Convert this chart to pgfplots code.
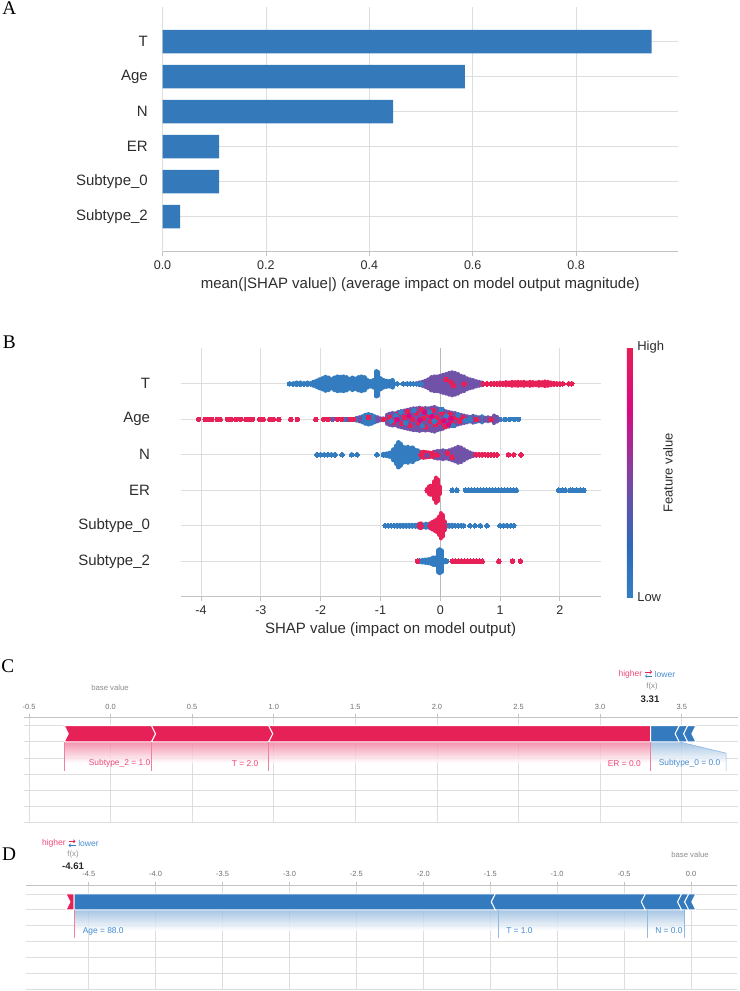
\documentclass[border=0pt]{standalone}
\usepackage{pgfplots}
\pgfplotsset{compat=1.18}
\usepackage{pgfplotstable}
\usetikzlibrary{arrows.meta}
\usepackage{fontspec}
\setmainfont{Liberation Sans}
\newfontfamily\seriffont{Liberation Serif}
\definecolor{barblue}{RGB}{52,122,187}
\definecolor{sblue}{RGB}{52,124,192}
\definecolor{spurp}{RGB}{112,82,168}
\definecolor{sred}{RGB}{232,32,88}
\definecolor{gridc}{RGB}{222,222,222}
\definecolor{axc}{RGB}{195,195,195}
\definecolor{txt}{RGB}{45,45,45}
\definecolor{fred}{RGB}{230,33,88}
\definecolor{fblue}{RGB}{52,122,190}
\definecolor{ftred}{RGB}{238,72,120}
\definecolor{ftblue}{RGB}{70,140,210}
\definecolor{fgray}{RGB}{140,140,140}
\definecolor{ftick}{RGB}{110,110,110}

\pgfplotsset{
  shapax/.style={scale only axis, enlargelimits=false,
    axis x line=bottom, axis y line=left,
    x axis line style={-, color=axc, line width=0.7pt},
    y axis line style={draw=none},
    grid=major, grid style={color=gridc, line width=0.6pt},
    tick align=outside, xtick style={color=axc, line width=0.6pt},
    major tick length=3.5pt, ytick style={draw=none},
    tick label style={color=txt}},
  forceax/.style={scale only axis, enlargelimits=false,
    axis x line=top, axis y line=left,
    x axis line style={-, color=axc, line width=0.6pt},
    y axis line style={draw=none},
    grid=major, grid style={color=gridc, line width=0.6pt},
    tick align=outside, xtick style={color=axc, line width=0.5pt},
    major tick length=2.5pt, ytick style={draw=none},
    ytick={-6,...,0}, yticklabels={},
    xticklabel style={font=\fontsize{5.6}{6}\selectfont, color=ftick}},
  swarm/.style={only marks, mark=*, mark size=1.7pt, color=#1,
    mark options={solid, fill=#1, draw=#1, line width=0pt},
    error bars/.cd, y dir=both, y explicit, error mark=none,
    error bar style={line width=3.4pt, line cap=round, color=#1, solid}},
}

% ---------- beeswarm data (x = SHAP value, y = feature row, e = half height of stack)
\pgfplotstableread{
x y e
-2.52 5 0
-2.46 5 0
-2.40 5 0.03
-2.34 5 0.03
-2.28 5 0
-2.22 5 0.03
-2.17 5 0
-2.12 5 0.05
-2.07 5 0.08
-2.02 5 0.12
-1.97 5 0.15
-1.92 5 0.19
-1.87 5 0.17
-1.82 5 0.12
-1.77 5 0.17
-1.72 5 0.20
-1.67 5 0.19
-1.62 5 0.20
-1.57 5 0.18
-1.52 5 0.13
-1.47 5 0.17
-1.42 5 0.14
-1.37 5 0.18
-1.32 5 0.20
-1.27 5 0.18
-1.22 5 0.10
-1.17 5 0.07
-1.12 5 0.10
-1.07 5 0.35
-1.04 5 0.33
-1.00 5 0.15
-0.95 5 0.10
-0.90 5 0.08
-0.85 5 0.07
-0.80 5 0.10
-0.72 5 0
-0.62 5 0
-0.55 5 0
-0.50 5 0
-0.45 5 0
-1.60 4 0
-1.40 4 0.03
-1.30 4 0.08
-1.25 4 0.12
-1.20 4 0.14
-1.15 4 0.12
-1.10 4 0.08
-0.95 4 0.02
0.50 4 0.06
0.60 4 0.07
0.70 4 0.08
1.00 4 0
1.08 4 0
1.16 4 0
1.24 4 0
1.31 4 0
-2.06 3 0
-2.00 3 0
-1.94 3 0
-1.88 3 0
-1.82 3 0
-1.76 3 0
-1.64 3 0
-1.48 3 0
-1.39 3 0
-1.06 3 0
-0.95 3 0.02
-0.90 3 0.03
-0.85 3 0.05
-0.80 3 0.08
-0.78 3 0.15
-0.74 3 0.25
-0.70 3 0.35
-0.66 3 0.30
-0.62 3 0.22
-0.58 3 0.20
-0.54 3 0.22
-0.50 3 0.18
-0.46 3 0.20
-0.42 3 0.14
-0.38 3 0.12
-0.34 3 0.08
0.20 2 0
0.28 2 0
0.42 2 0
0.47 2 0
0.52 2 0
0.57 2 0
0.62 2 0
0.67 2 0
0.72 2 0
0.77 2 0
0.82 2 0
0.87 2 0
0.92 2 0
0.97 2 0
1.02 2 0
1.07 2 0
1.12 2 0
1.17 2 0
1.22 2 0
1.27 2 0
1.98 2 0
2.04 2 0
2.09 2 0
2.17 2 0
2.22 2 0
2.28 2 0
2.34 2 0
2.40 2 0
-0.92 1 0
-0.87 1 0
-0.82 1 0
-0.77 1 0
-0.72 1 0.02
-0.67 1 0.02
-0.62 1 0.02
-0.57 1 0.02
-0.52 1 0.02
-0.47 1 0.02
-0.42 1 0.02
-0.38 1 0.02
-0.28 1 0.03
-0.24 1 0.05
-0.20 1 0.04
0.10 1 0.03
0.15 1 0.02
0.20 1 0.02
0.25 1 0
0.30 1 0
0.35 1 0
0.39 1 0
0.50 1 0
0.58 1 0
0.67 1 0
0.78 1 0
1.00 1 0
1.06 1 0
1.12 1 0
1.18 1 0
1.23 1 0
-0.35 0 0.02
-0.30 0 0.03
-0.25 0 0.04
-0.20 0 0.05
-0.15 0 0.07
-0.11 0 0.10
-0.07 0 0.10
-0.04 0 0.30
-0.01 0 0.33
0.02 0 0.30
0.05 0 0.04
0.08 0 0.02
0.11 0 0
}\tblue

\pgfplotstableread{
x y e
-0.40 5 0
-0.35 5 0.03
-0.30 5 0.05
-0.25 5 0.08
-0.20 5 0.12
-0.15 5 0.18
-0.10 5 0.20
-0.05 5 0.20
0.00 5 0.22
0.05 5 0.25
0.10 5 0.27
0.15 5 0.30
0.20 5 0.32
0.25 5 0.30
0.30 5 0.27
0.35 5 0.22
0.40 5 0.20
0.45 5 0.15
0.50 5 0.12
0.55 5 0.10
0.60 5 0.07
0.65 5 0.05
0.70 5 0.03
-1.80 4 0
-1.55 4 0
-1.35 4 0.05
-1.05 4 0.05
-1.00 4 0.02
-0.89 4 0.12
-0.85 4 0.15
-0.80 4 0.17
-0.75 4 0.16
-0.70 4 0.20
-0.65 4 0.22
-0.60 4 0.24
-0.55 4 0.26
-0.50 4 0.28
-0.45 4 0.30
-0.40 4 0.30
-0.35 4 0.32
-0.30 4 0.30
-0.25 4 0.31
-0.20 4 0.30
-0.15 4 0.32
-0.10 4 0.34
-0.05 4 0.30
0.00 4 0.28
0.05 4 0.26
0.10 4 0.22
0.15 4 0.20
0.20 4 0.18
0.25 4 0.17
0.30 4 0.14
0.35 4 0.12
0.40 4 0.10
0.45 4 0.08
0.55 4 0.09
0.65 4 0.05
0.75 4 0.04
0.80 4 0.05
0.85 4 0.03
0.90 4 0.10
0.95 4 0.06
-0.10 3 0.08
-0.05 3 0.10
0.00 3 0.10
0.05 3 0.12
0.10 3 0.10
0.15 3 0.12
0.20 3 0.15
0.25 3 0.18
0.30 3 0.22
0.35 3 0.20
0.40 3 0.15
0.45 3 0.10
0.50 3 0.06
0.55 3 0.03
}\tpurp

\pgfplotstableread{
x y e
0.72 5 0
0.78 5 0
0.85 5 0
0.90 5 0.02
0.95 5 0
1.00 5 0.03
1.05 5 0.02
1.10 5 0.04
1.15 5 0.03
1.20 5 0.05
1.25 5 0.04
1.30 5 0.05
1.35 5 0.04
1.40 5 0.05
1.45 5 0.03
1.50 5 0.05
1.55 5 0.04
1.60 5 0.03
1.65 5 0.05
1.70 5 0.04
1.75 5 0.06
1.80 5 0.05
1.85 5 0.03
1.90 5 0.02
1.95 5 0
2.00 5 0
2.05 5 0
2.15 5 0
2.20 5 0
-4.04 4 0
-3.93 4 0
-3.87 4 0
-3.82 4 0
-3.73 4 0
-3.68 4 0
-3.56 4 0
-3.50 4 0
-3.42 4 0
-3.34 4 0
-3.25 4 0
-3.20 4 0
-3.14 4 0
-3.02 4 0
-2.96 4 0
-2.85 4 0
-2.79 4 0
-2.70 4 0
-2.50 4 0
-2.39 4 0
-2.08 4 0
-1.95 4 0
-1.88 4 0
-1.72 4 0
-1.65 4 0
-1.50 4 0
-1.45 4 0
-0.32 3 0.06
-0.28 3 0.08
-0.24 3 0.07
-0.20 3 0.06
-0.16 3 0.05
-0.12 3 0.06
0.60 3 0.02
0.65 3 0
0.70 3 0.02
0.75 3 0
0.80 3 0
0.85 3 0
0.90 3 0
0.95 3 0
1.14 3 0
1.23 3 0
1.35 3 0
-0.22 2 0.03
-0.19 2 0.10
-0.16 2 0.12
-0.13 2 0.12
-0.10 2 0.25
-0.07 2 0.35
-0.04 2 0.30
-0.01 2 0.10
-0.35 1 0.05
-0.32 1 0.06
-0.17 1 0.06
-0.13 1 0.10
-0.09 1 0.14
-0.05 1 0.18
-0.02 1 0.25
0.01 1 0.35
0.04 1 0.30
0.07 1 0.12
-0.38 0 0
0.20 0 0
0.25 0 0
0.30 0 0
0.35 0 0
0.40 0 0
0.45 0 0
0.50 0 0
0.55 0 0
0.60 0 0
0.65 0 0
0.70 0 0
0.98 0 0
1.21 0 0
1.34 0 0
}\tred

\pgfplotstableread{
x y c
-0.85 4.05 1
-0.78 3.92 1
-0.70 4.15 1
-0.64 3.88 1
-0.60 4.05 1
-0.55 4.22 1
-0.50 3.82 1
-0.46 4.00 1
-0.40 4.18 1
-0.36 3.90 1
-0.32 4.28 1
-0.28 4.02 1
-0.24 3.78 1
-0.20 4.12 1
-0.16 3.95 1
-0.12 4.25 1
-0.08 3.85 1
-0.05 4.05 1
0.00 3.92 1
0.03 4.18 1
0.08 3.80 1
0.12 4.05 1
0.16 4.15 1
0.20 3.90 1
0.26 4.05 1
0.32 3.95 1
0.38 4.05 1
-1.20 4.05 1
-0.95 4.00 1
0.60 4.00 1
0.85 4.00 1
-0.82 3.95 0
-0.74 4.10 0
-0.58 3.90 0
-0.44 4.25 0
-0.30 3.82 0
-0.18 4.20 0
-0.10 3.95 0
0.02 4.28 0
0.10 4.10 0
0.22 3.82 0
0.30 4.12 0
-0.66 4.20 0
0.42 3.96 0
0.50 4.00 0
-0.72 4.00 0.75
-0.52 4.10 0.75
-0.34 3.98 0.75
-0.14 4.08 0.75
0.06 3.96 0.75
0.18 4.02 0.75
-0.26 4.20 0.75
0.14 3.86 0.75
0.10 5.12 1
0.22 4.95 1
0.18 5.05 1
0.40 5.00 1
-0.40 5.00 0
-0.32 5.00 0
-0.05 3.00 1
0.12 3.05 1
0.20 2.93 1
-0.22 2.98 0.45
}\tover

\begin{document}
\begin{tikzpicture}
\path[use as bounding box] (0,0) rectangle (554.25pt,-743.25pt);

% ================= A: mean |SHAP| bar chart
\begin{axis}[shapax, at={(121.875pt,-188.775pt)}, anchor=south west,
  width=386.6pt, height=183.75pt,
  xmin=0, xmax=0.997, ymin=-1, ymax=6,
  xtick={0,0.2,0.4,0.6,0.8}, xticklabels={0.0,0.2,0.4,0.6,0.8},
  ytick={0,...,5}, yticklabels={Subtype\_2,Subtype\_0,ER,N,Age,T},
  yticklabel style={font=\fontsize{11.25}{13}\selectfont, xshift=-4pt},
  xticklabel style={font=\fontsize{9.4}{11}\selectfont},
  xlabel={mean(|SHAP value|) (average impact on model output magnitude)},
  xlabel style={font=\fontsize{11.25}{13}\selectfont, color=txt, yshift=1pt}]
\addplot[xbar, fill=barblue, draw=none, bar width=0.67]
  coordinates {(0.034,0) (0.1095,1) (0.1095,2) (0.446,3) (0.585,4) (0.946,5)};
\end{axis}

% ================= B: beeswarm
\begin{axis}[shapax, at={(135.525pt,-447.525pt)}, anchor=south west,
  width=314.85pt, height=186.3pt,
  xmin=-4.34, xmax=2.68, ymin=-1, ymax=6,
  xtick={-4,...,2}, xticklabels={-4,-3,-2,-1,0,1,2},
  ytick={0,...,5}, yticklabels={Subtype\_2,Subtype\_0,ER,N,Age,T},
  yticklabel style={font=\fontsize{11.25}{13}\selectfont, xshift=-16pt},
  xticklabel style={font=\fontsize{9.4}{11}\selectfont},
  xlabel={SHAP value (impact on model output)},
  xlabel style={font=\fontsize{11.25}{13}\selectfont, color=txt, yshift=1pt},
  colormap={shap}{rgb255(0)=(52,127,196) rgb255(0.2)=(45,105,185) rgb255(0.45)=(115,75,165) rgb255(0.75)=(215,10,130) rgb255(1)=(232,30,85)},
  point meta min=0, point meta max=1,
  colorbar,
  colorbar style={at={(parent axis.north east)}, anchor=north west,
    xshift=11.2pt, yshift=0.75pt, scale only axis, width=4.5pt, height=187.5pt,
    ytick=\empty, xtick=\empty, axis line style={draw=none}}]
\addplot[color=gray!55, line width=0.7pt] coordinates {(0,-1) (0,6)};
\addplot[swarm=sblue] table[x=x, y=y, y error=e]{\tblue};
\addplot[swarm=spurp] table[x=x, y=y, y error=e]{\tpurp};
\addplot[swarm=sred] table[x=x, y=y, y error=e]{\tred};
\addplot[scatter, only marks, mark=*, mark size=1.7pt,
  scatter/use mapped color={draw=mapped color, fill=mapped color, line width=0pt},
  point meta=explicit]
  table[x=x, y=y, meta=c]{\tover};
\end{axis}

% ================= C: force plot (f(x)=3.31)
\begin{axis}[forceax, at={(17.7pt,-617.025pt)}, anchor=south west,
  width=535.8pt, height=79.05pt,
  xmin=-0.533, xmax=3.845, ymin=-6, ymax=0.52,
  xtick={-0.5,0,0.5,1,1.5,2,2.5,3,3.5},
  xticklabels={-0.5,0.0,0.5,1.0,1.5,2.0,2.5,3.0,3.5}]
\addplot[draw=none, top color=fred!60!white, bottom color=white, fill opacity=0.8]
  coordinates {(-0.284,-1) (3.31,-1) (3.31,-2.3) (-0.284,-2.3)} -- cycle;
\addplot[draw=none, top color=fblue!55!white, bottom color=white, fill opacity=0.8]
  coordinates {(3.31,-1) (3.485,-1) (3.772,-1.7) (3.772,-2.3) (3.31,-2.3)} -- cycle;
\addplot[fill=fred, draw=white, line width=0.7pt]
  coordinates {(-0.284,0) (0.251,0) (0.276,-0.5) (0.251,-1) (-0.284,-1) (-0.259,-0.5)} -- cycle;
\addplot[fill=fred, draw=white, line width=0.7pt]
  coordinates {(0.251,0) (0.969,0) (0.994,-0.5) (0.969,-1) (0.251,-1) (0.276,-0.5)} -- cycle;
\addplot[fill=fred, draw=white, line width=0.7pt]
  coordinates {(0.969,0) (3.31,0) (3.31,-1) (0.969,-1) (0.994,-0.5)} -- cycle;
\addplot[fill=fblue, draw=white, line width=0.7pt]
  coordinates {(3.31,0) (3.485,0) (3.46,-0.5) (3.485,-1) (3.31,-1)} -- cycle;
\addplot[fill=fblue, draw=white, line width=0.7pt]
  coordinates {(3.485,0) (3.537,0) (3.512,-0.5) (3.537,-1) (3.485,-1) (3.46,-0.5)} -- cycle;
\addplot[fill=fblue, draw=white, line width=0.7pt]
  coordinates {(3.537,0) (3.587,0) (3.562,-0.5) (3.587,-1) (3.537,-1) (3.512,-0.5)} -- cycle;
\addplot[ftred!70, line width=0.5pt] coordinates {(-0.284,-1) (-0.284,-2.8)};
\addplot[ftred!70, line width=0.5pt] coordinates {(0.251,-1) (0.251,-2.8)};
\addplot[ftred!70, line width=0.5pt] coordinates {(0.965,-1) (0.965,-2.8)};
\addplot[ftred!70, line width=0.5pt] coordinates {(3.309,-1) (3.309,-2.8)};
\addplot[ftblue!60, line width=0.5pt] coordinates {(3.485,-1) (3.772,-1.7) (3.772,-2.8)};
\end{axis}

% ================= D: force plot (f(x)=-4.61)
\begin{axis}[forceax, at={(19.5pt,-741.975pt)}, anchor=south west,
  width=533.25pt, height=78.3pt,
  xmin=-4.969, xmax=0.344, ymin=-6, ymax=0.566,
  xtick={-4.5,-4,-3.5,-3,-2.5,-2,-1.5,-1,-0.5,0},
  xticklabels={-4.5,-4.0,-3.5,-3.0,-2.5,-2.0,-1.5,-1.0,-0.5,0.0}]
\addplot[draw=none, top color=fblue!55!white, bottom color=white, fill opacity=0.8]
  coordinates {(-4.61,-1) (-0.052,-1) (-0.052,-2.3) (-4.61,-2.3)} -- cycle;
\addplot[fill=fred, draw=white, line width=0.7pt]
  coordinates {(-4.67,0) (-4.61,0) (-4.61,-1) (-4.67,-1) (-4.64,-0.5)} -- cycle;
\addplot[fill=fblue, draw=white, line width=0.7pt]
  coordinates {(-4.61,0) (-1.462,0) (-1.492,-0.5) (-1.462,-1) (-4.61,-1)} -- cycle;
\addplot[fill=fblue, draw=white, line width=0.7pt]
  coordinates {(-1.462,0) (-0.341,0) (-0.371,-0.5) (-0.341,-1) (-1.462,-1) (-1.492,-0.5)} -- cycle;
\addplot[fill=fblue, draw=white, line width=0.7pt]
  coordinates {(-0.341,0) (-0.07,0) (-0.10,-0.5) (-0.07,-1) (-0.341,-1) (-0.371,-0.5)} -- cycle;
\addplot[fill=fblue, draw=white, line width=0.7pt]
  coordinates {(-0.07,0) (-0.017,0) (-0.047,-0.5) (-0.017,-1) (-0.07,-1) (-0.10,-0.5)} -- cycle;
\addplot[fill=fblue, draw=white, line width=0.7pt]
  coordinates {(-0.017,0) (0.036,0) (0.006,-0.5) (0.036,-1) (-0.017,-1) (-0.047,-0.5)} -- cycle;
\addplot[ftred!70, line width=0.5pt] coordinates {(-4.61,-1) (-4.61,-2.79)};
\addplot[ftblue!60, line width=0.5pt] coordinates {(-1.4375,-1) (-1.4375,-2.79)};
\addplot[ftblue!60, line width=0.5pt] coordinates {(-0.329,-1) (-0.329,-2.79)};
\addplot[ftblue!60, line width=0.5pt] coordinates {(-0.052,-1) (-0.052,-2.79)};
\end{axis}

% ================= texts (pixel coordinates of the reference)
\begin{scope}[x=0.75pt, y=-0.75pt]
\node[font=\seriffont\fontsize{14.5}{15}\selectfont, text=black] at (9.4,8.6) {A};
\node[font=\seriffont\fontsize{14.5}{15}\selectfont, text=black] at (9.4,342.5) {B};
\node[font=\seriffont\fontsize{14.5}{15}\selectfont, text=black] at (7.8,666.5) {C};
\node[font=\seriffont\fontsize{14.5}{15}\selectfont, text=black] at (9,853.8) {D};
% colorbar labels
\node[anchor=west, inner sep=0pt, font=\fontsize{9.75}{11}\selectfont, text=txt] at (637,347.5) {High};
\node[anchor=west, inner sep=0pt, font=\fontsize{9.75}{11}\selectfont, text=txt] at (637,597.3) {Low};
\node[rotate=90, inner sep=0pt, font=\fontsize{9.75}{11}\selectfont, text=txt] at (668,473) {Feature value};
% C texts
\node[anchor=east, inner sep=0pt, font=\fontsize{6.4}{7}\selectfont, text=ftred] at (642.5,674) {higher};
\draw[fred, line width=0.5pt, -{Straight Barb[length=1.2pt]}] (645,672) -- (652,672);
\draw[fblue, line width=0.5pt, -{Straight Barb[length=1.2pt]}] (652,676) -- (645,676);
\node[anchor=west, inner sep=0pt, font=\fontsize{6.4}{7}\selectfont, text=ftblue] at (654.5,674) {lower};
\node[inner sep=0pt, font=\fontsize{5.8}{6}\selectfont, text=fgray] at (652,686.7) {f(x)};
\node[inner sep=0pt, font=\bfseries\fontsize{7.2}{8}\selectfont, text=black!85] at (650,699) {3.31};
\node[inner sep=0pt, font=\fontsize{5.8}{6}\selectfont, text=fgray] at (110,687.3) {base value};
\node[anchor=east, inner sep=0pt, font=\fontsize{6.3}{7}\selectfont, text=ftred] at (150.5,763.3) {Subtype\_2 = 1.0};
\node[anchor=east, inner sep=0pt, font=\fontsize{6.3}{7}\selectfont, text=ftred] at (258.5,763.3) {T = 2.0};
\node[anchor=east, inner sep=0pt, font=\fontsize{6.3}{7}\selectfont, text=ftred] at (641,763.3) {ER = 0.0};
\node[anchor=west, inner sep=0pt, font=\fontsize{6.3}{7}\selectfont, text=ftblue] at (658.5,763.3) {Subtype\_0 = 0.0};
% D texts
\node[anchor=east, inner sep=0pt, font=\fontsize{6.4}{7}\selectfont, text=ftred] at (66,843.3) {higher};
\draw[fred, line width=0.5pt, -{Straight Barb[length=1.2pt]}] (68.5,841.3) -- (75.5,841.3);
\draw[fblue, line width=0.5pt, -{Straight Barb[length=1.2pt]}] (75.5,845.3) -- (68.5,845.3);
\node[anchor=west, inner sep=0pt, font=\fontsize{6.4}{7}\selectfont, text=ftblue] at (78,843.3) {lower};
\node[inner sep=0pt, font=\fontsize{5.8}{6}\selectfont, text=fgray] at (73,854.3) {f(x)};
\node[inner sep=0pt, font=\bfseries\fontsize{7.2}{8}\selectfont, text=black!85] at (73,866) {-4.61};
\node[inner sep=0pt, font=\fontsize{5.8}{6}\selectfont, text=fgray] at (690,855) {base value};
\node[anchor=west, inner sep=0pt, font=\fontsize{6.3}{7}\selectfont, text=ftblue] at (82.5,931) {Age = 88.0};
\node[anchor=west, inner sep=0pt, font=\fontsize{6.3}{7}\selectfont, text=ftblue] at (506,931) {T = 1.0};
\node[anchor=west, inner sep=0pt, font=\fontsize{6.3}{7}\selectfont, text=ftblue] at (655,931) {N = 0.0};
\end{scope}
\end{tikzpicture}
\end{document}
